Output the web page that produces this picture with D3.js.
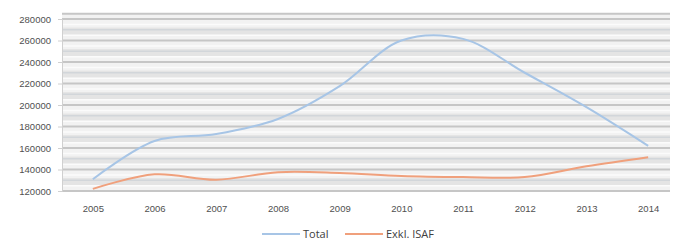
<!DOCTYPE html>
<html>
<head>
<meta charset="utf-8">
<script src="https://cdn.jsdelivr.net/npm/d3@7"></script>
<style>
  body { margin: 0; background: #fff; }
  svg { display: block; font-family: "Open Sans", "DejaVu Sans", sans-serif; }
</style>
</head>
<body>
<div id="chart"></div>
<script>
  // data
  const years = ["2005", "2006", "2007", "2008", "2009", "2010", "2011", "2012", "2013", "2014"];
  const total = [131000, 166500, 173000, 187000, 217500, 260000, 261500, 230000, 198000, 162000];
  const exklIsaf = [122000, 135500, 130500, 137500, 136800, 134000, 133000, 133000, 143000, 151500];
  const yTicks = [120000, 140000, 160000, 180000, 200000, 220000, 240000, 260000, 280000];

  const width = 683, height = 245;
  const margin = {top: 19, right: 4, bottom: 54, left: 62};

  const svg = d3.select("#chart").append("svg")
    .attr("width", width).attr("height", height);

  const x = d3.scalePoint()
    .domain(years)
    .range([margin.left, width - margin.right])
    .padding(0.5);

  const y = d3.scaleLinear()
    .domain([120000, 280000])
    .range([height - margin.bottom, margin.top]);

  const plotLeft = margin.left, plotRight = 670;

  // striped background like the original
  const bg = svg.append("g");
  bg.append("rect")
    .attr("x", plotLeft).attr("y", y(285000))
    .attr("width", plotRight - plotLeft).attr("height", y(120000) - y(285000))
    .attr("fill", "#f2f2f2");
  // bands between major ticks
  bg.selectAll("rect.band")
    .data(yTicks.slice(0, -1))
    .enter().append("rect")
    .attr("class", "band")
    .attr("x", plotLeft).attr("width", plotRight - plotLeft)
    .attr("y", d => y(d + 12000))
    .attr("height", d => y(d + 5000) - y(d + 12000))
    .attr("fill", "#e4e4e4");
  // minor lines
  const minor = d3.range(120000, 285000, 5000).filter(v => v % 20000 !== 0);
  bg.selectAll("line.minor")
    .data(minor)
    .enter().append("line")
    .attr("x1", plotLeft).attr("x2", plotRight)
    .attr("y1", d => y(d)).attr("y2", d => y(d))
    .attr("stroke", d => d % 10000 === 0 ? "#d2d6da" : "#fbfbfb")
    .attr("stroke-width", 1.5);
  // major grid
  bg.selectAll("line.major")
    .data(yTicks.concat([285000]))
    .enter().append("line")
    .attr("x1", plotLeft).attr("x2", plotRight)
    .attr("y1", d => y(d)).attr("y2", d => y(d))
    .attr("stroke", "#c6c6c6")
    .attr("stroke-width", 2);

  // y axis
  const yAxis = svg.append("g")
    .attr("transform", `translate(${plotLeft},0)`)
    .call(d3.axisLeft(y).tickValues(yTicks).tickSize(4).tickFormat(d3.format("d")));
  yAxis.select(".domain").attr("stroke", "#d0d0d0");
  yAxis.selectAll(".tick line").attr("stroke", "#d0d0d0");
  yAxis.selectAll("text").attr("fill", "#505050").attr("font-size", 9.5).attr("dx", -4);

  // x axis
  const xAxis = svg.append("g")
    .attr("transform", `translate(0,${y(120000)})`)
    .call(d3.axisBottom(x).tickSize(0).tickPadding(14));
  xAxis.select(".domain").remove();
  xAxis.selectAll("text").attr("fill", "#505050").attr("font-size", 9.5);

  // lines
  const line = d3.line()
    .x((d, i) => x(years[i]))
    .y(d => y(d))
    .curve(d3.curveCatmullRom.alpha(0.5));

  const series = [
    {name: "Total", values: total, color: "#a7c5e6"},
    {name: "Exkl. ISAF", values: exklIsaf, color: "#f0a07c"}
  ];

  svg.selectAll("path.series")
    .data(series)
    .enter().append("path")
    .attr("class", "series")
    .attr("d", d => line(d.values))
    .attr("fill", "none")
    .attr("stroke", d => d.color)
    .attr("stroke-width", 2);

  // legend
  const legend = svg.append("g").attr("transform", "translate(262,238)");
  const items = legend.selectAll("g")
    .data(series)
    .enter().append("g")
    .attr("transform", (d, i) => `translate(${i * 83},0)`);
  items.append("line")
    .attr("x1", 0).attr("x2", 38)
    .attr("y1", -4).attr("y2", -4)
    .attr("stroke", d => d.color)
    .attr("stroke-width", 2);
  items.append("text")
    .attr("x", 41).attr("y", 0)
    .attr("font-size", 11)
    .attr("fill", "#404040")
    .text(d => d.name);
</script>
</body>
</html>
